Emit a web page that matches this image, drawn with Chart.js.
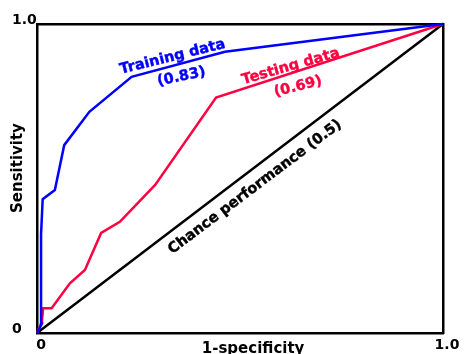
<!DOCTYPE html>
<html>
<head>
<meta charset="utf-8">
<script src="https://cdn.jsdelivr.net/npm/chart.js@4"></script>
<style>
  body { margin: 0; background: #fff; }
  #wrap { width: 465px; height: 354px; }
</style>
</head>
<body>
<div id="wrap"><canvas id="rocChart"></canvas></div>
<script>
// ROC curves (1-specificity, sensitivity)
const trainX = [0, 0.012, 0.01, 0.014, 0.044, 0.067, 0.129, 0.233, 0.463, 1];
const trainY = [0, 0.03, 0.32, 0.433, 0.463, 0.608, 0.716, 0.829, 0.910, 1];
const testX = [0, 0.012, 0.015, 0.036, 0.081, 0.118, 0.158, 0.204, 0.291, 0.441, 1];
const testY = [0, 0.036, 0.080, 0.080, 0.161, 0.204, 0.324, 0.360, 0.479, 0.762, 1];
const chanceX = [0, 1];
const chanceY = [0, 1];

// axis ticks
const tickValues = [0, 1];
const tickLabels = ["0", "1.0"];

// curve labels
const labelTexts = ["Training data", "(0.83)", "Testing data", "(0.69)", "Chance performance (0.5)"];
const labelX = [0.334, 0.356, 0.625, 0.643, 0.537];
const labelY = [0.893, 0.829, 0.862, 0.797, 0.472];
const labelAngle = [-14, -12, -16, -14, -37];
const labelColors = ["#0000ff", "#0000ff", "#ff0040", "#ff0040", "#000000"];

const toPoints = (xs, ys) => xs.map((x, i) => ({ x: x, y: ys[i] }));
const FONT = "'DejaVu Sans', Verdana, sans-serif";

// draws the rotated labels next to the curves
const curveLabels = {
  id: "curveLabels",
  afterDatasetsDraw(chart) {
    const ctx = chart.ctx;
    const xs = chart.scales.x, ys = chart.scales.y;
    ctx.save();
    ctx.font = "bold 14.5px " + FONT;
    ctx.textAlign = "center";
    ctx.textBaseline = "middle";
    ctx.lineWidth = 0.4;
    labelTexts.forEach((t, i) => {
      ctx.save();
      ctx.translate(xs.getPixelForValue(labelX[i]), ys.getPixelForValue(labelY[i]));
      ctx.rotate(labelAngle[i] * Math.PI / 180);
      ctx.fillStyle = labelColors[i];
      ctx.strokeStyle = labelColors[i];
      ctx.fillText(t, 0, 0);
      ctx.strokeText(t, 0, 0);
      ctx.restore();
    });
    ctx.restore();
  }
};

const fixTicks = (scale) => { scale.ticks = tickValues.map(v => ({ value: v })); };
const tickText = (value) => tickLabels[tickValues.indexOf(value)] ?? "";

const config = {
  type: "scatter",
  data: {
    datasets: [
      { label: "Training data", data: toPoints(trainX, trainY), borderColor: "#0000ff" },
      { label: "Testing data", data: toPoints(testX, testY), borderColor: "#ff0040" },
      { label: "Chance performance", data: toPoints(chanceX, chanceY), borderColor: "#000000" }
    ].map(d => Object.assign(d, { showLine: true, pointRadius: 0, borderWidth: 2.5, tension: 0, clip: false }))
  },
  options: {
    responsive: true,
    maintainAspectRatio: false,
    animation: false,
    layout: { padding: { left: 12, top: 24, right: 22, bottom: 0 } },
    plugins: { legend: { display: false }, tooltip: { enabled: false } },
    scales: {
      x: {
        type: "linear", position: "bottom", min: 0, max: 1,
        afterBuildTicks: fixTicks,
        afterFit: (s) => { s.height = 21; },
        grid: { display: false, drawTicks: false },
        border: { color: "#000", width: 2.5 },
        ticks: { callback: tickText, padding: 4, labelOffset: 4, color: "#000", font: { family: FONT, size: 14, weight: "bold" } },
        title: { display: true, text: "     1-specificity", color: "#000", padding: { top: 0, bottom: -4 }, font: { family: FONT, size: 15, weight: "bold" } }
      },
      y: {
        type: "linear", position: "left", min: 0, max: 1,
        afterBuildTicks: fixTicks,
        afterFit: (s) => { s.width = 25; },
        grid: { display: false, drawTicks: false },
        border: { color: "#000", width: 2.5 },
        ticks: { callback: tickText, crossAlign: "far", labelOffset: -4, color: "#000", font: { family: FONT, size: 14, weight: "bold" } },
        title: { display: true, text: "    Sensitivity", color: "#000", padding: { top: -3, bottom: 0 }, font: { family: FONT, size: 15, weight: "bold" } }
      },
      xTop: {
        type: "linear", position: "top", min: 0, max: 1,
        afterFit: (s) => { s.height = 0; },
        grid: { display: false, drawTicks: false },
        border: { color: "#000", width: 2.5 },
        ticks: { display: false }
      },
      yRight: {
        type: "linear", position: "right", min: 0, max: 1,
        afterFit: (s) => { s.width = 0; },
        grid: { display: false, drawTicks: false },
        border: { color: "#000", width: 2.5 },
        ticks: { display: false }
      }
    }
  },
  plugins: [curveLabels]
};

new Chart(document.getElementById("rocChart"), config);
</script>
</body>
</html>
